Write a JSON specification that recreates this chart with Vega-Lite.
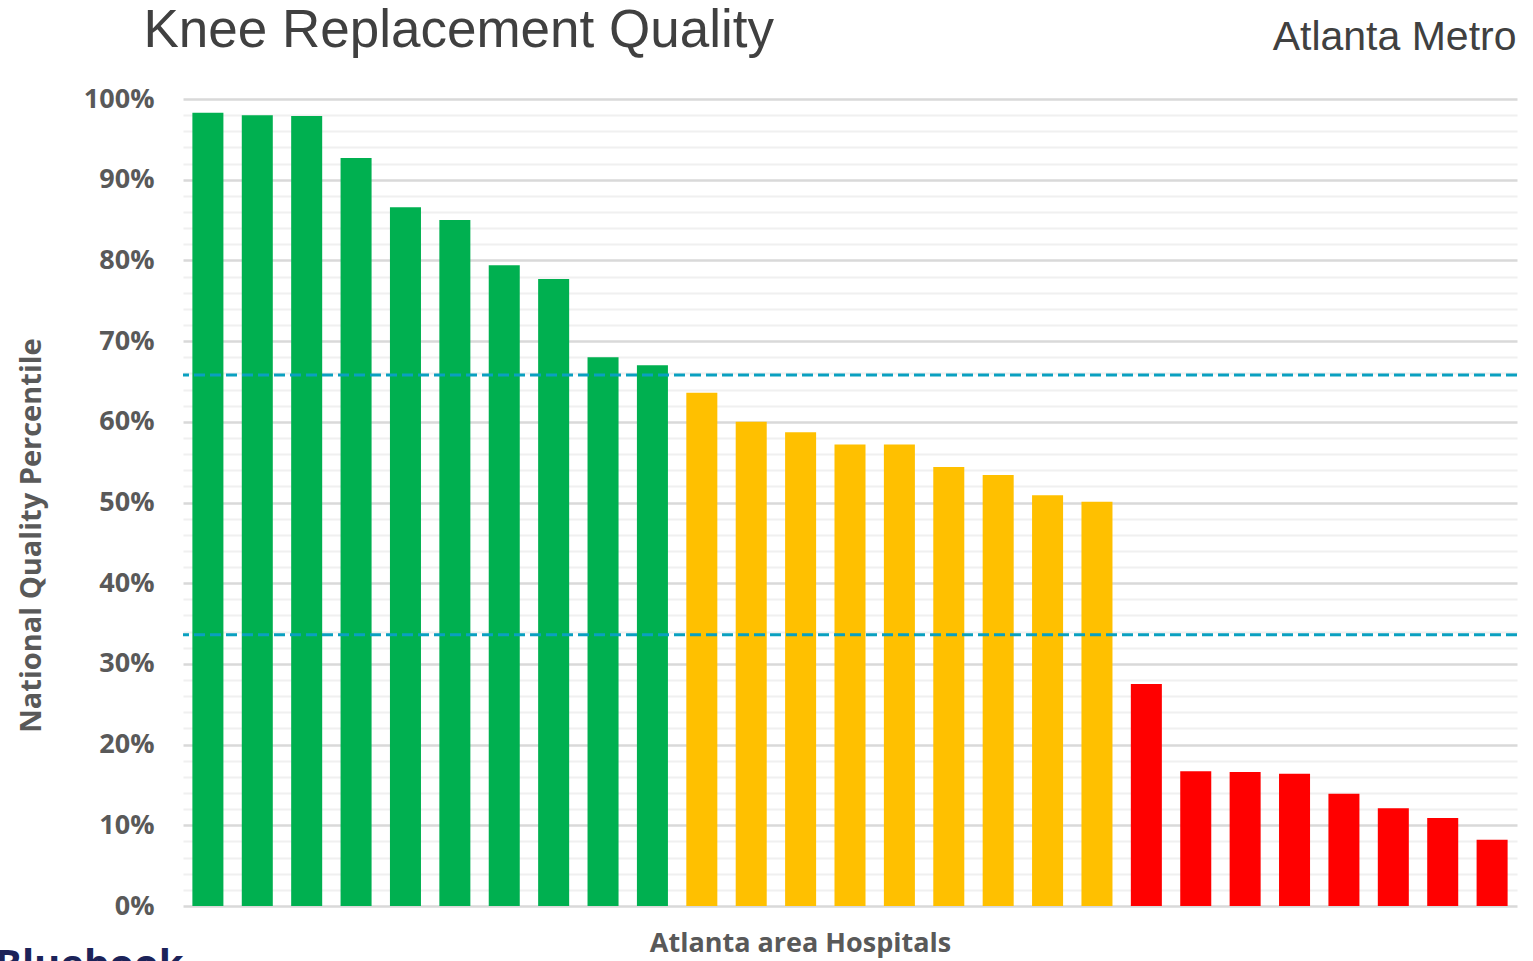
{
  "$schema": "https://vega.github.io/schema/vega-lite/v6.json",
  "autosize": {"type": "none"},
  "padding": {"left": 183, "top": 99, "right": 16, "bottom": 55},
  "width": 1334,
  "height": 807,
  "background": "white",
  "config": {"view": {"stroke": null}},
  "title": {
    "text": "Bluebook",
    "orient": "bottom",
    "anchor": "start",
    "frame": "group",
    "font": "Open Sans",
    "fontWeight": "bold",
    "fontSize": 40,
    "color": "#1c2359",
    "baseline": "top",
    "dx": -188,
    "offset": -10
  },
  "datasets": {
    "hospitals": [
      {"hospital": "H01", "percentile": 98.3, "tier": "Top"},
      {"hospital": "H02", "percentile": 98.0, "tier": "Top"},
      {"hospital": "H03", "percentile": 97.9, "tier": "Top"},
      {"hospital": "H04", "percentile": 92.7, "tier": "Top"},
      {"hospital": "H05", "percentile": 86.6, "tier": "Top"},
      {"hospital": "H06", "percentile": 85.0, "tier": "Top"},
      {"hospital": "H07", "percentile": 79.4, "tier": "Top"},
      {"hospital": "H08", "percentile": 77.7, "tier": "Top"},
      {"hospital": "H09", "percentile": 68.0, "tier": "Top"},
      {"hospital": "H10", "percentile": 67.0, "tier": "Top"},
      {"hospital": "H11", "percentile": 63.6, "tier": "Middle"},
      {"hospital": "H12", "percentile": 60.0, "tier": "Middle"},
      {"hospital": "H13", "percentile": 58.7, "tier": "Middle"},
      {"hospital": "H14", "percentile": 57.2, "tier": "Middle"},
      {"hospital": "H15", "percentile": 57.2, "tier": "Middle"},
      {"hospital": "H16", "percentile": 54.4, "tier": "Middle"},
      {"hospital": "H17", "percentile": 53.4, "tier": "Middle"},
      {"hospital": "H18", "percentile": 50.9, "tier": "Middle"},
      {"hospital": "H19", "percentile": 50.1, "tier": "Middle"},
      {"hospital": "H20", "percentile": 27.5, "tier": "Bottom"},
      {"hospital": "H21", "percentile": 16.7, "tier": "Bottom"},
      {"hospital": "H22", "percentile": 16.6, "tier": "Bottom"},
      {"hospital": "H23", "percentile": 16.4, "tier": "Bottom"},
      {"hospital": "H24", "percentile": 13.9, "tier": "Bottom"},
      {"hospital": "H25", "percentile": 12.1, "tier": "Bottom"},
      {"hospital": "H26", "percentile": 10.9, "tier": "Bottom"},
      {"hospital": "H27", "percentile": 8.2, "tier": "Bottom"}
    ],
    "upper": [{"threshold": 65.8}],
    "lower": [{"threshold": 33.6}]
  },
  "resolve": {"axis": {"y": "independent"}},
  "layer": [
    {
      "data": {"name": "hospitals"},
      "mark": {"type": "bar"},
      "encoding": {
        "x": {
          "field": "hospital",
          "type": "nominal",
          "sort": null,
          "scale": {"paddingInner": 0.372, "paddingOuter": 0.19},
          "axis": {
            "title": "Atlanta area Hospitals",
            "labels": false,
            "ticks": false,
            "domain": false,
            "grid": false,
            "titleFont": "Open Sans",
            "titleFontWeight": "bold",
            "titleFontSize": 27,
            "titleColor": "#595959",
            "titleX": 617,
            "titleY": 45,
            "titleAlign": "center",
            "titleBaseline": "alphabetic"
          }
        },
        "y": {
          "field": "percentile",
          "type": "quantitative",
          "scale": {"domain": [0, 100], "nice": false},
          "axis": {
            "orient": "left",
            "title": "National Quality Percentile",
            "values": [0,2,4,6,8,10,12,14,16,18,20,22,24,26,28,30,32,34,36,38,40,42,44,46,48,50,52,54,56,58,60,62,64,66,68,70,72,74,76,78,80,82,84,86,88,90,92,94,96,98,100],
            "labelExpr": "datum.value % 10 === 0 ? datum.value + '%' : ''",
            "ticks": false,
            "tickSize": 0,
            "domain": false,
            "grid": true,
            "gridColor": {"condition": {"test": "datum.value % 10 === 0", "value": "#d9d9d9"}, "value": "#f0f0f0"},
            "gridWidth": {"condition": {"test": "datum.value % 10 === 0", "value": 2.5}, "value": 2},
            "labelFont": "Open Sans",
            "labelFontWeight": "bold",
            "labelFontSize": 27,
            "labelColor": "#595959",
            "labelPadding": 29,
            "labelBaseline": "middle",
            "titleFont": "Open Sans",
            "titleFontWeight": "bold",
            "titleFontSize": 29,
            "titleColor": "#595959",
            "titleAngle": 270,
            "titleX": -143,
            "titleY": 436,
            "titleAlign": "center",
            "titleBaseline": "alphabetic"
          }
        },
        "color": {
          "field": "tier",
          "type": "nominal",
          "scale": {"domain": ["Top", "Middle", "Bottom"], "range": ["#00b050", "#ffc000", "#ff0000"]},
          "legend": null
        }
      }
    },
    {
      "data": {"name": "upper"},
      "mark": {"type": "rule", "color": "#0aa0c0", "strokeWidth": 3, "strokeDash": [11, 5]},
      "encoding": {
        "y": {
          "field": "threshold",
          "type": "quantitative",
          "axis": {
            "orient": "right",
            "title": "Atlanta Metro",
            "labels": false,
            "ticks": false,
            "domain": false,
            "grid": false,
            "titleFont": "Liberation Sans",
            "titleFontWeight": "normal",
            "titleFontSize": 41,
            "titleColor": "#404040",
            "titleAngle": 0,
            "titleX": -1,
            "titleY": -50,
            "titleAlign": "right",
            "titleBaseline": "alphabetic"
          }
        }
      }
    },
    {
      "data": {"name": "lower"},
      "mark": {"type": "rule", "color": "#0aa0c0", "strokeWidth": 3, "strokeDash": [11, 5]},
      "encoding": {
        "y": {
          "field": "threshold",
          "type": "quantitative",
          "axis": {
            "orient": "left",
            "title": "Knee Replacement Quality",
            "labels": false,
            "ticks": false,
            "domain": false,
            "grid": false,
            "titleFont": "Liberation Sans",
            "titleFontWeight": "normal",
            "titleFontSize": 53,
            "titleColor": "#404040",
            "titleAngle": 0,
            "titleX": -40,
            "titleY": -53,
            "titleAlign": "left",
            "titleBaseline": "alphabetic"
          }
        }
      }
    }
  ]
}
